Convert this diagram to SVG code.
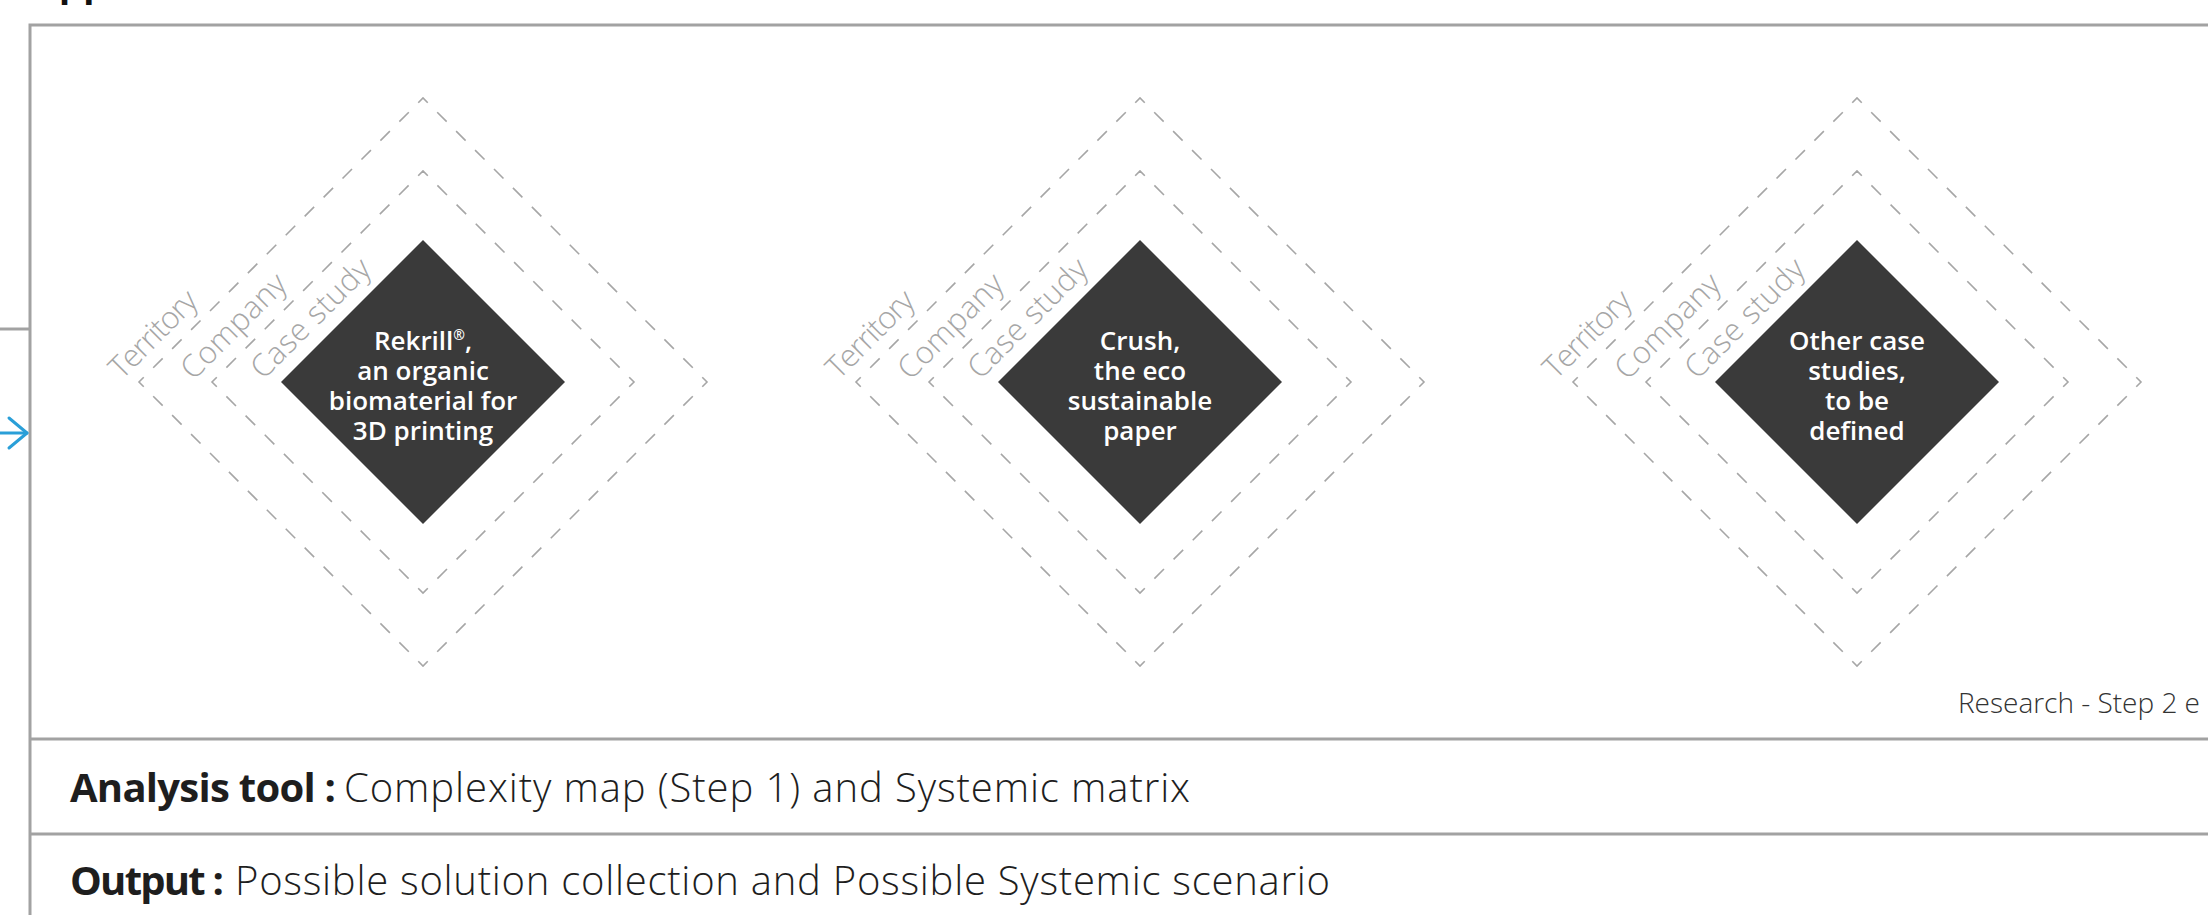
<svg xmlns="http://www.w3.org/2000/svg" width="2208" height="915" viewBox="0 0 2208 915">
  <style>
    .frame { fill: none; stroke: #a2a2a2; stroke-width: 3; }
    .ring { fill: none; stroke: #a6a6a6; stroke-width: 1.6; stroke-dasharray: 1 1; stroke-dashoffset: 0.5; }
    .core { fill: #3a3a3a; }
    .core-label { font-family: "Open Sans", "Liberation Sans", sans-serif; font-weight: 600; font-size: 26px; fill: #ffffff; text-anchor: middle; }
    .layer { font-family: "Open Sans", "Liberation Sans", sans-serif; font-weight: 300; font-size: 31px; fill: #a6a6a6; }
    .row { font-family: "Open Sans", "Liberation Sans", sans-serif; font-size: 40px; fill: #1e1e1e; }
    .key { font-weight: 700; }
    .val { font-weight: 300; }
    .note { font-family: "Open Sans", "Liberation Sans", sans-serif; font-weight: 300; font-size: 28px; fill: #333333; }
    .title { font-family: "Liberation Sans", sans-serif; font-weight: 700; font-size: 40px; fill: #111111; }
    .flow { fill: none; stroke: #2a9fd8; stroke-width: 3; stroke-linecap: round; stroke-linejoin: round; }
  </style>

  <defs>
    <!-- dashed rings: pathLength chosen so every side holds a whole number of dash periods,
         which puts a centred dash (a small chevron) on each corner -->
    <path id="ring-territory" class="ring" pathLength="120" d="M-284,0 L0,-284 L284,0 L0,284 Z"/>
    <path id="ring-company" class="ring" pathLength="88" d="M-211,0 L0,-211 L211,0 L0,211 Z"/>
    <path id="core-shape" class="core" d="M-142,0 L0,-142 L142,0 L0,142 Z"/>
  </defs>

  <rect width="2208" height="915" fill="#ffffff"/>

  <!-- heading, mostly above the visible area -->
  <text class="title" x="30" y="-3">Application</text>

  <!-- frame -->
  <g id="frame">
    <path class="frame" d="M30,915 V25 H2208"/>
    <line class="frame" x1="0" y1="329" x2="30" y2="329"/>
    <line class="frame" x1="30" y1="739" x2="2208" y2="739"/>
    <line class="frame" x1="30" y1="834" x2="2208" y2="834"/>
  </g>

  <g id="connectors">
    <line class="flow" x1="0" y1="433" x2="27" y2="433"/>
    <polyline class="flow" points="9,418 27,433 9,448"/>
  </g>

  <!-- case study 1 -->
  <g id="case-rekrill" transform="translate(423,382)">
    <use href="#ring-territory"/>
    <use href="#ring-company"/>
    <use href="#core-shape"/>
    <g transform="rotate(-45)">
      <text class="layer" x="-212" y="-214" textLength="110">Territory</text>
      <text class="layer" x="-162" y="-163" textLength="135">Company</text>
      <text class="layer" x="-112" y="-114" textLength="155">Case study</text>
    </g>
    <text class="core-label" x="0" y="-32">Rekrill<tspan font-size="14" dy="-10">®</tspan><tspan dy="10">,</tspan></text>
    <text class="core-label" x="0" y="-2">an organic</text>
    <text class="core-label" x="0" y="28">biomaterial for</text>
    <text class="core-label" x="0" y="58">3D printing</text>
  </g>

  <!-- case study 2 -->
  <g id="case-crush" transform="translate(1140,382)">
    <use href="#ring-territory"/>
    <use href="#ring-company"/>
    <use href="#core-shape"/>
    <g transform="rotate(-45)">
      <text class="layer" x="-212" y="-214" textLength="110">Territory</text>
      <text class="layer" x="-162" y="-163" textLength="135">Company</text>
      <text class="layer" x="-112" y="-114" textLength="155">Case study</text>
    </g>
    <text class="core-label" x="0" y="-32">Crush,</text>
    <text class="core-label" x="0" y="-2">the eco</text>
    <text class="core-label" x="0" y="28">sustainable</text>
    <text class="core-label" x="0" y="58">paper</text>
  </g>

  <!-- case study 3 -->
  <g id="case-other" transform="translate(1857,382)">
    <use href="#ring-territory"/>
    <use href="#ring-company"/>
    <use href="#core-shape"/>
    <g transform="rotate(-45)">
      <text class="layer" x="-212" y="-214" textLength="110">Territory</text>
      <text class="layer" x="-162" y="-163" textLength="135">Company</text>
      <text class="layer" x="-112" y="-114" textLength="155">Case study</text>
    </g>
    <text class="core-label" x="0" y="-32">Other case</text>
    <text class="core-label" x="0" y="-2">studies,</text>
    <text class="core-label" x="0" y="28">to be</text>
    <text class="core-label" x="0" y="58">defined</text>
  </g>

  <text class="note" x="1958" y="713" textLength="242">Research - Step 2 e</text>

  <!-- info rows -->
  <g id="row-analysis">
    <text class="row key" x="70" y="802" textLength="266">Analysis tool :</text>
    <text class="row val" x="344" y="802" textLength="846">Complexity map (Step 1) and Systemic matrix</text>
  </g>
  <g id="row-output">
    <text class="row key" x="70" y="895" textLength="154">Output :</text>
    <text class="row val" x="235" y="895" textLength="1095">Possible solution collection and Possible Systemic scenario</text>
  </g>
</svg>
